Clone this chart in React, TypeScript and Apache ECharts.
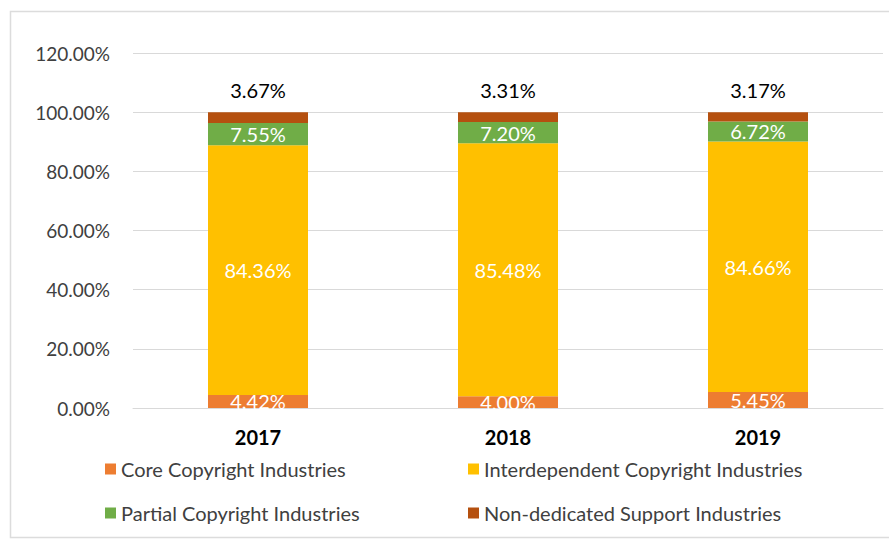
import React, { useEffect, useRef } from "react";
import * as echarts from "echarts";

const categories = ["2017", "2018", "2019"];
const coreValues = [4.42, 4.0, 5.45];
const interdependentValues = [84.36, 85.48, 84.66];
const partialValues = [7.55, 7.2, 6.72];
const nonDedicatedValues = [3.67, 3.31, 3.17];
const yTicks = { min: 0, max: 120, interval: 20 };

const FONT = "Lato";

export default function App() {
  const ref = useRef<HTMLDivElement>(null);
  useEffect(() => {
    if (!ref.current) return;
    const chart = echarts.init(ref.current, null, { renderer: "svg" });
    const inLabel = {
      show: true,
      position: "inside",
      color: "#ffffff",
      fontSize: 20,
      fontFamily: FONT,
      formatter: (p: any) => Number(p.value).toFixed(2) + "%",
    };
    const legendText = { fontSize: 20, lineHeight: 20, fontFamily: FONT, color: "#404040" };
    chart.setOption({
      animation: false,
      backgroundColor: "#ffffff",
      textStyle: { fontFamily: FONT },
      graphic: [
        {
          type: "rect",
          shape: { x: 10.5, y: 11.5, width: 900, height: 526 },
          style: { fill: "none", stroke: "#dcdcdc", lineWidth: 1.5 },
          silent: true,
        },
      ],
      grid: { left: 133, right: 6, top: 53, bottom: 133 },
      legend: [
        {
          left: 100,
          top: 454,
          orient: "vertical",
          itemGap: 24,
          itemWidth: 11,
          itemHeight: 11,
          icon: "rect",
          textStyle: legendText,
          data: ["Core Copyright Industries", "Partial Copyright Industries"],
        },
        {
          left: 463,
          top: 454,
          orient: "vertical",
          itemGap: 24,
          itemWidth: 11,
          itemHeight: 11,
          icon: "rect",
          textStyle: legendText,
          data: ["Interdependent Copyright Industries", "Non-dedicated Support Industries"],
        },
      ],
      xAxis: {
        type: "category",
        data: categories,
        axisTick: { show: false },
        axisLine: { lineStyle: { color: "#d9d9d9" } },
        axisLabel: { fontSize: 20, fontWeight: "bold", color: "#000000", margin: 19, fontFamily: FONT },
      },
      yAxis: {
        type: "value",
        min: yTicks.min,
        max: yTicks.max,
        interval: yTicks.interval,
        axisLine: { show: false },
        axisTick: { show: false },
        splitLine: { lineStyle: { color: "#d9d9d9" } },
        axisLabel: {
          fontSize: 19,
          color: "#404040",
          margin: 23,
          fontFamily: FONT,
          formatter: (v: number) => v.toFixed(2) + "%",
        },
      },
      series: [
        {
          name: "Core Copyright Industries",
          type: "bar",
          stack: "a",
          barWidth: "40%",
          data: coreValues,
          itemStyle: { color: "#ED7D31" },
          label: inLabel,
        },
        {
          name: "Interdependent Copyright Industries",
          type: "bar",
          stack: "a",
          data: interdependentValues,
          itemStyle: { color: "#FFC000" },
          label: inLabel,
        },
        {
          name: "Partial Copyright Industries",
          type: "bar",
          stack: "a",
          data: partialValues,
          itemStyle: { color: "#70AD47" },
          label: inLabel,
        },
        {
          name: "Non-dedicated Support Industries",
          type: "bar",
          stack: "a",
          data: nonDedicatedValues,
          itemStyle: { color: "#B5500F" },
          label: { ...inLabel, position: "top", color: "#000000", distance: 12 },
        },
      ],
    });
    return () => chart.dispose();
  }, []);
  return (
    <div
      ref={ref}
      style={{ position: "fixed", left: 0, top: 0, width: 889, height: 541, background: "#fff" }}
    />
  );
}
